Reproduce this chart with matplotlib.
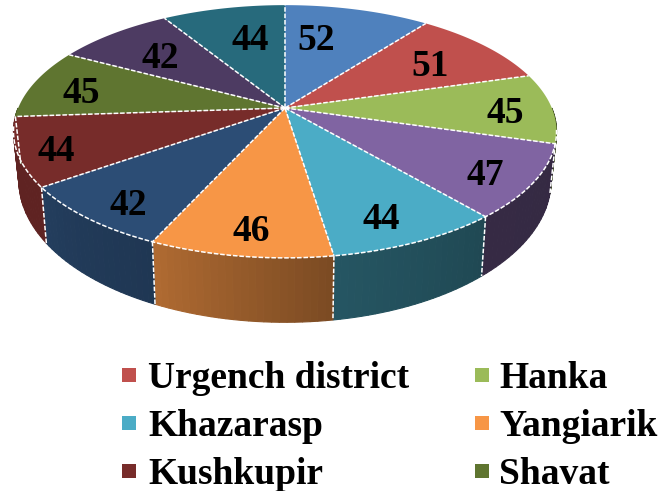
import numpy as np
import matplotlib
matplotlib.use('Agg')
import matplotlib.pyplot as plt

# data
values = [52, 51, 45, 47, 44, 46, 42, 44, 45, 42, 44]
colors = ['#4F81BD', '#C0504D', '#9BBB59', '#8064A2', '#4BACC6', '#F79646',
          '#2C4D75', '#772C2A', '#5F7530', '#4D3B62', '#276A7C']

# only these six names are visible in the legend
legend_names = ['Urgench district', 'Hanka', 'Khazarasp', 'Yangiarik', 'Kushkupir', 'Shavat']
legend_slices = [1, 2, 4, 5, 7, 8]

# nudges of the value labels, in pixels
label_dx = [-22, 2, 33, 32, 9, -4, -25, -45, -26, 0, 10]
label_dy = [5, 3, 5, 17, 23, 26, 24, 13, 3, 4, 6]

plt.rcParams['font.family'] = ['Liberation Serif', 'DejaVu Serif']
plt.rcParams['font.weight'] = 'bold'

# perspective of the tilted disc
cx, cy = 285, 108
rx, ry = 266.8, 122
k = 0.186
bottom_scale = 0.98
bottom_cy, bottom_ry = 154, 137


def top_xy(theta, r=1.0):
    u = r * np.sin(theta)
    v = r * np.cos(theta)
    w = 1 + k * v
    return cx + rx * u / w, cy - ry * v / w


def bottom_xy(theta):
    u = np.sin(theta)
    v = np.cos(theta)
    w = 1 + k * v
    return cx + bottom_scale * rx * u / w, bottom_cy - bottom_ry * v / w


def shade(color, theta):
    # the side wall gets darker towards the right
    f = np.interp(np.degrees(theta), [90, 140, 172, 204, 220, 234, 270],
                  [0.41, 0.42, 0.50, 0.71, 0.75, 0.8, 0.8])
    return tuple(c * f for c in matplotlib.colors.to_rgb(color))


fig = plt.figure(figsize=(6.65, 4.91), dpi=100)
ax = fig.add_axes([0, 0, 1, 1])
ax.set_xlim(0, 665)
ax.set_ylim(491, 0)
ax.axis('off')

edges = np.radians(np.cumsum([0] + values) * 360 / sum(values))
dash = (0, (3, 1.2))

# side walls first, only the front half can be seen
for i in range(len(values)):
    start = max(edges[i], np.pi / 2)
    stop = min(edges[i + 1], 3 * np.pi / 2)
    if stop <= start:
        continue
    steps = np.linspace(start, stop, 25)
    for a, b in zip(steps[:-1], steps[1:]):
        th = np.array([a, b])
        xt, yt = top_xy(th)
        xb, yb = bottom_xy(th[::-1])
        c = shade(colors[i], (a + b) / 2)
        ax.fill(np.r_[xt, xb], np.r_[yt, yb], facecolor=c, edgecolor=c, lw=0.8)

# wall seams
for e in edges:
    if np.pi / 2 < e < 3 * np.pi / 2:
        xt, yt = top_xy(e)
        xb, yb = bottom_xy(e)
        ax.plot([xt, xb], [yt, yb], color='white', lw=1.1, ls=dash)

# top faces
for i in range(len(values)):
    th = np.linspace(edges[i], edges[i + 1], 60)
    x, y = top_xy(th)
    ax.fill(np.r_[cx, x], np.r_[cy, y], color=colors[i], lw=0)

# white slice borders
for e in edges[:-1]:
    x, y = top_xy(e)
    ax.plot([cx, x], [cy, y], color='white', lw=1.1, ls=dash)
th = np.linspace(np.radians(100), np.radians(262), 200)
x, y = top_xy(th)
ax.plot(x, y, color='white', lw=1.1, ls=dash)

# value labels
for i, val in enumerate(values):
    mid = (edges[i] + edges[i + 1]) / 2
    x, y = top_xy(mid, 0.7)
    ax.text(x + label_dx[i], y + label_dy[i], str(val), fontsize=27, fontweight='bold',
            ha='center', va='center', color='black')

# legend
legend_x = [129, 482]
text_x = [148, 499]
legend_y = [375, 423, 471]
for i, name in enumerate(legend_names):
    col = i % 2
    row = i // 2
    ax.scatter(legend_x[col], legend_y[row], marker='s', s=88, lw=0, color=colors[legend_slices[i]])
    ax.text(text_x[col], legend_y[row], name, fontsize=27, fontweight='bold',
            ha='left', va='center_baseline', color='black')

fig.savefig('out.png', dpi=100)
